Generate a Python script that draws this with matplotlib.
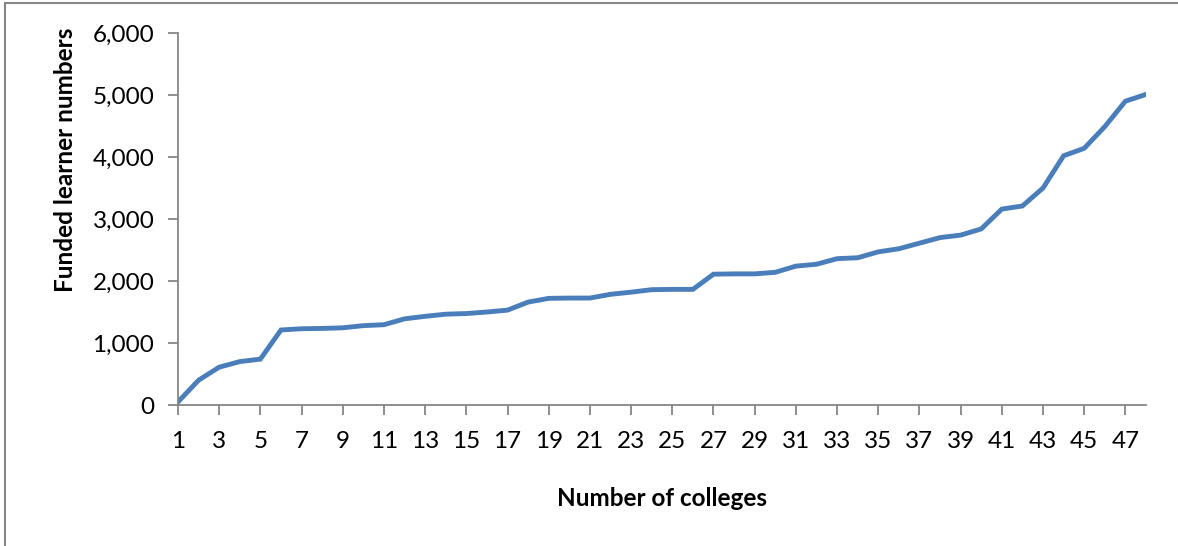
import matplotlib
matplotlib.use("Agg")
import matplotlib.pyplot as plt
from matplotlib.patches import Rectangle
from matplotlib.ticker import FuncFormatter, MultipleLocator

plt.rcParams['font.family'] = ['Lato', 'DejaVu Sans']

colleges = list(range(1, 49))
learners = [50, 400, 610, 700, 740, 1210, 1230, 1235, 1245, 1280,
            1295, 1390, 1430, 1465, 1475, 1500, 1530, 1660, 1720, 1725,
            1725, 1785, 1820, 1860, 1865, 1865, 2110, 2115, 2115, 2140,
            2240, 2270, 2360, 2375, 2470, 2520, 2610, 2700, 2740, 2840,
            3160, 3210, 3500, 4020, 4140, 4490, 4900, 5010]
x_ticks = list(range(1, 48, 2))

W, H = 1178, 546
fig = plt.figure(figsize=(W / 100, H / 100), dpi=100)
ax = fig.add_axes([178 / W, (H - 405) / H, (1146 - 178) / W, (405 - 33) / H])

ax.plot(colleges, learners, color='#4A7EBB', linewidth=3.5, solid_joinstyle='miter')

ax.set_xlim(1, 48)
ax.set_ylim(0, 6000)
ax.set_xticks(x_ticks)
ax.yaxis.set_major_locator(MultipleLocator(1000))
ax.yaxis.set_major_formatter(FuncFormatter(lambda v, p: f"{int(v):,}"))

axis_col = '#868686'
for side in ['top', 'right']:
    ax.spines[side].set_visible(False)
for side in ['left', 'bottom']:
    ax.spines[side].set_color(axis_col)
    ax.spines[side].set_linewidth(1.3)
ax.tick_params(axis='both', colors=axis_col, labelcolor='black', labelsize=17.5,
               length=7, width=1.3, direction='out')
ax.tick_params(axis='x', pad=12)
ax.tick_params(axis='y', pad=10)

# axis titles placed like the original (y title sits above the middle)
fig.text(662 / W, (H - 498) / H, 'Number of colleges', fontsize=17.5,
         fontweight='bold', ha='center', va='center')
fig.text(66 / W, (H - 160) / H, 'Funded learner numbers', fontsize=17.5,
         fontweight='bold', ha='center', va='center', rotation=90)

# outer frame of the chart area (cropped at right and bottom)
fig.patches.append(Rectangle((5 / W, -0.1), 1.2, (H - 3) / H + 0.1,
                             transform=fig.transFigure, fill=False,
                             edgecolor='#868686', linewidth=1.5))

fig.savefig('out.png', dpi=100)
